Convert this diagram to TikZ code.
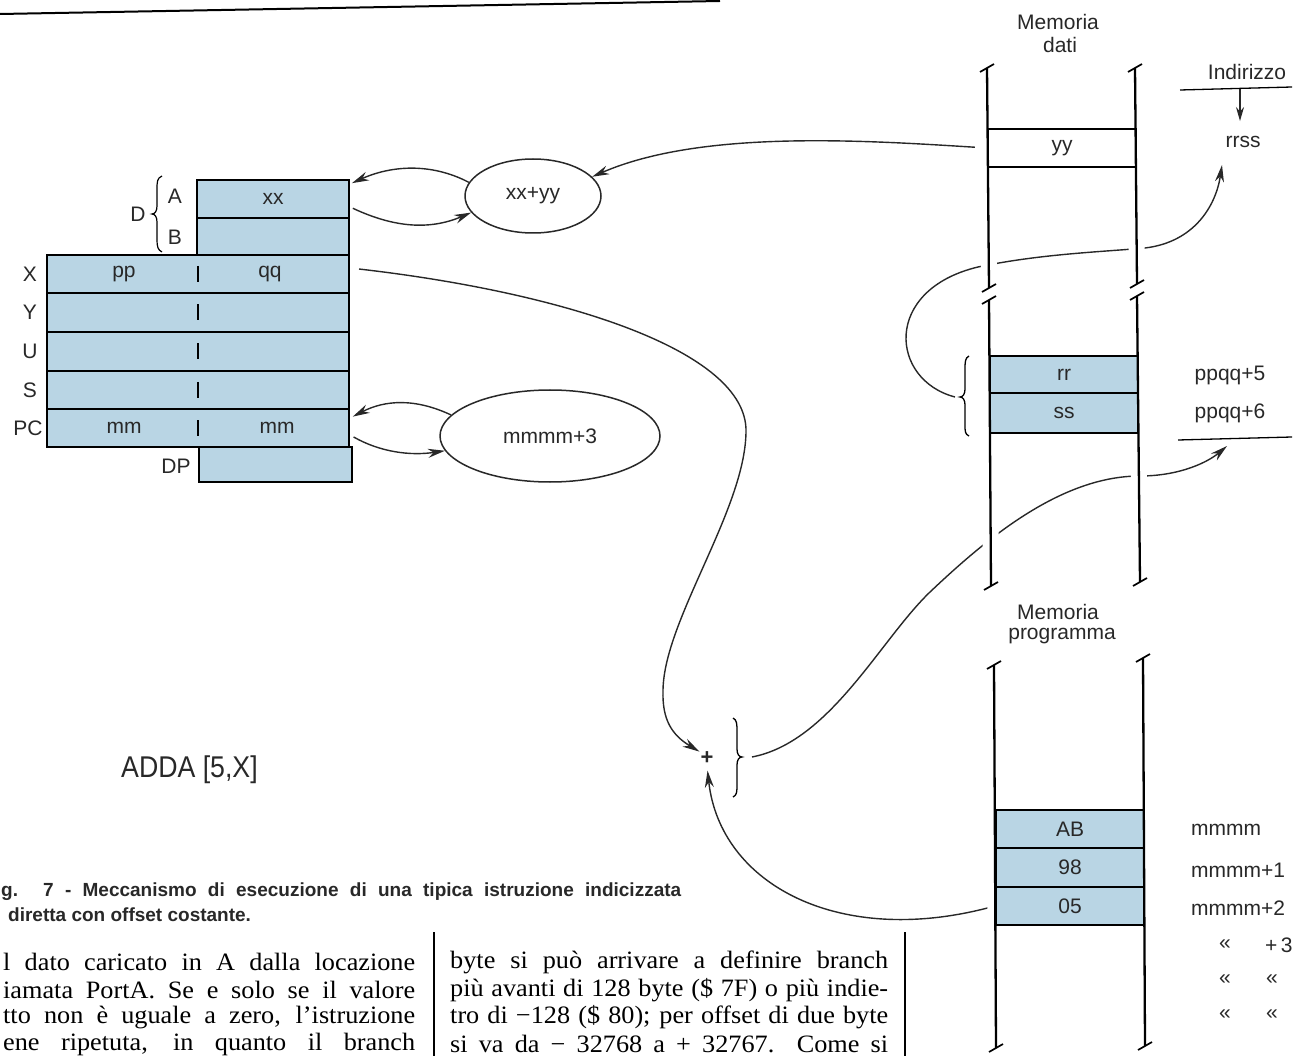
\documentclass[tikz,border=0pt]{standalone}
\usepackage{fontspec}
\setmainfont{Liberation Serif}
\newfontfamily\labfont{Liberation Sans}
\newfontfamily\condfont[FakeStretch=0.89]{Liberation Sans}
\newfontfamily\bodyfont[FakeStretch=1.05]{Liberation Serif}
\usetikzlibrary{arrows.meta,shapes.geometric}
\definecolor{cellblue}{RGB}{185,213,228}
\definecolor{ink}{RGB}{40,40,40}
\newcommand{\rtick}[2]{\draw[line width=1.7pt] ({#1-7},{#2+4}) -- ({#1+7},{#2-4});}
\begin{document}
\begin{tikzpicture}[x=1pt,y=-1pt,
  lab/.style={font=\labfont\fontsize{21}{23}\selectfont, inner sep=1pt, text=ink},
  reg/.style={draw=black, line width=2.2pt, fill=cellblue, inner sep=0pt, font=\labfont\fontsize{21}{23}\selectfont, text=ink},
  memc/.style={reg, minimum width=148pt},
  curve/.style={draw=ink, line width=1.4pt},
  arr/.style={curve, -{Stealth[length=17pt,width=9pt]}},
  rail/.style={line width=2.3pt, draw=black},
  halo/.style={line width=16pt, draw=white},
  oval/.style={draw=ink, ellipse, line width=1.5pt, inner sep=0pt, font=\labfont\fontsize{21}{23}\selectfont, text=ink},
  body/.style={font=\bodyfont\fontsize{25}{27}\selectfont, inner sep=0pt, anchor=west},
  captxt/.style={anchor=west, inner sep=0pt, text=ink, font=\labfont\bfseries\fontsize{19}{22}\selectfont}
]
\useasboundingbox (0,0) rectangle (1293,1056);
\fill[white] (0,0) rectangle (1293,1056);

% top rule
\draw[line width=2pt] (0,14) -- (720,1);

% ---------- registers ----------
\node[reg, minimum width=153pt, minimum height=35pt] (DP) at (275.5,464.5) {};
\node[reg, minimum width=302pt, minimum height=38pt] (X) at (198,274) {};
\node[reg, minimum width=302pt, minimum height=39pt] (Y) at (198,312.5) {};
\node[reg, minimum width=302pt, minimum height=39pt] (U) at (198,351.5) {};
\node[reg, minimum width=302pt, minimum height=38pt] (S) at (198,390) {};
\node[reg, minimum width=302pt, minimum height=38pt] (PC) at (198,428) {};
\node[reg, minimum width=152pt, minimum height=38pt] (A) at (273,199) {xx};
\node[reg, minimum width=152pt, minimum height=37pt] (B) at (273,236.5) {};
\foreach \r in {X,Y,U,S,PC} \draw[line width=1.6pt] ([yshift=8pt]\r.center) -- ([yshift=-8pt]\r.center);
\node[lab] (pp) at (124,274) {pp};
\node[lab] (qq) at (270,274) {qq};
\node[lab] (mm1) at (124,428) {mm};
\node[lab] (mm2) at (277,428) {mm};
\node[lab] (lX) at (30,274) {X};
\node[lab] (lY) at (30,312) {Y};
\node[lab] (lU) at (30,351) {U};
\node[lab] (lS) at (30,390) {S};
\node[lab] (lPC) at (28,428) {PC};
\node[lab] (lA) at (175,196) {A};
\node[lab] (lB) at (175,237) {B};
\node[lab] (lD) at (138,214) {D};
\node[lab] (lDP) at (176,466) {DP};
\draw[line width=1.2pt] (162,176) .. controls (157,178) and (157,182) .. (157,190) -- (157,206) .. controls (157,211) and (155,214) .. (152,214) .. controls (155,214) and (157,217) .. (157,222) -- (157,240) .. controls (157,247) and (158,250) .. (162,252);

% ---------- ovals ----------
\node[oval, minimum width=136pt, minimum height=74pt] (s1) at (533,196) {xx+yy};
\node[oval, minimum width=220pt, minimum height=92pt] (s2) at (550,436) {mmmm+3};

% ---------- memory labels ----------
\node[lab] (md1) at (1058,22) {Memoria};
\node[lab] (md2) at (1060,45) {dati};
\node[lab] (mp1) at (1058,612) {Memoria};
\node[lab] (mp2) at (1062,636) {programma};
\node[lab] (indir) at (1247,72) {Indirizzo};
\node[lab] (rrss) at (1243,142) {rrss};
\node[lab] (pq5) at (1230,375) {ppqq+5};
\node[lab] (pq6) at (1230,413) {ppqq+6};
\draw[line width=1.3pt] (1180,90) -- (1292,87);
\draw[line width=1.3pt] (1178,440) -- (1292,437);
\coordinate (ind) at (1240,89);
\coordinate (ar1) at (1222,165);
\coordinate (ar2) at (1227,446);

% ---------- plus and braces ----------
\node[font=\labfont\bfseries\fontsize{22}{24}\selectfont, inner sep=1pt, text=ink] (plus) at (707,758) {+};
\draw[line width=1.3pt] (733,718) .. controls (737,720) and (737,724) .. (737,732) -- (737,749) .. controls (737,754) and (739,757) .. (742,757) .. controls (739,757) and (737,760) .. (737,765) -- (737,784) .. controls (737,792) and (737,795) .. (733,797);
\coordinate (br1) at (752,757);
\draw[line width=1.3pt] (969,356) .. controls (965,358) and (965,362) .. (965,370) -- (965,389) .. controls (965,394) and (963,397) .. (960,397) .. controls (963,397) and (965,400) .. (965,405) -- (965,424) .. controls (965,432) and (965,434) .. (969,436);
\coordinate (br2) at (955,397);

% memory cells (first pass, for anchors)
\path (1062,148) node[memc, fill=white, minimum height=38pt] (yy) {yy};
\path (1064,374.5) node[memc, minimum height=37pt] (rr) {rr};
\path (1064,413) node[memc, minimum height=40pt] (ss) {ss};
\path (1070,829) node[memc, minimum height=38pt] (AB) {AB};
\path (1070,867.5) node[memc, minimum height=39pt] (P98) {98};
\path (1070,906) node[memc, minimum height=38pt] (P05) {05};

% ---------- connectors ----------
\draw[arr, shorten <=12pt] (yy.west) .. controls (860,140) and (700,130) .. (s1.18);
\draw[arr, shorten >=2pt] (s1.168) .. controls (430,162) and (390,166) .. ([yshift=15pt]A.east);
\draw[arr, shorten <=3pt] ([yshift=-8pt]A.east) .. controls (395,228) and (430,230) .. (s1.195);
\draw[arr, shorten >=3pt] (s2.168) .. controls (415,398) and (385,400) .. ([yshift=10pt]PC.east);
\draw[arr, shorten <=4pt] ([yshift=-7pt]PC.east) .. controls (380,452) and (410,456) .. (s2.188);
\draw[arr, shorten <=9pt] ([yshift=6pt]X.east) .. controls (560,292) and (748,350) .. (746,432) .. controls (745,510) and (664,620) .. (663,690) .. controls (662,720) and (672,735) .. (plus.140);
\draw[arr, shorten <=3pt, shorten >=5pt] (P05.west) .. controls (840,948) and (720,885) .. (plus.south);
\draw[arr] (br1) .. controls (830,742) and (880,640) .. (930,592) .. controls (985,540) and (1060,476) .. (1140,476) .. controls (1180,476) and (1208,462) .. (ar2);
\draw[arr] (br2) .. controls (890,380) and (882,290) .. (978,267) .. controls (1040,254) and (1100,252) .. (1145,248) .. controls (1195,242) and (1216,205) .. (ar1);
\draw[curve, -{Stealth[length=14pt,width=8pt]}, shorten >=14pt] (ind) -- (ind |- rrss.north);

% ---------- rails ----------
\draw[halo] (987,68) -- (989,288);  \draw[halo] (1135,68) -- (1137,284);
\draw[halo] (989,300) -- (991,586); \draw[halo] (1137,296) -- (1140,582);
\draw[halo] (994,665) -- (996,1048); \draw[halo] (1143,658) -- (1145,1046);

\path (1062,148) node[memc, fill=white, minimum height=38pt] {yy};
\path (1064,374.5) node[memc, minimum height=37pt] {rr};
\path (1064,413) node[memc, minimum height=40pt] {ss};
\path (1070,829) node[memc, minimum height=38pt] {AB};
\path (1070,867.5) node[memc, minimum height=39pt] {98};
\path (1070,906) node[memc, minimum height=38pt] {05};

\draw[rail] (987,68) -- (989,288);  \draw[rail] (1135,68) -- (1137,284);
\draw[rail] (989,300) -- (991,586); \draw[rail] (1137,296) -- (1140,582);
\draw[rail] (994,665) -- (996,1048); \draw[rail] (1143,658) -- (1145,1046);
\rtick{987}{68} \rtick{1135}{68} \rtick{989}{288} \rtick{1137}{284}
\rtick{989}{300} \rtick{1137}{296} \rtick{991}{586} \rtick{1140}{582}
\rtick{994}{665} \rtick{1143}{658} \rtick{996}{1048} \rtick{1145}{1046}

% ---------- program addresses ----------
\node[lab, anchor=west] (a0) at (1190,830) {mmmm};
\node[lab, anchor=west] (a1) at (1190,870) {mmmm+1};
\node[lab, anchor=west] (a2) at (1190,908) {mmmm+2};
\node[lab] (q1) at (1225,945) {«};
\node[lab, anchor=west] (a3) at (1264,945) {+\,3};
\node[lab] (q2) at (1225,980) {«};
\node[lab] (q3) at (1272,980) {«};
\node[lab] (q4) at (1225,1015) {«};
\node[lab] (q5) at (1272,1015) {«};

% ---------- texts ----------
\node[font=\condfont\fontsize{30}{32}\selectfont, anchor=west, inner sep=0pt, text=ink] (adda) at (121,770) {ADDA [5,X]};
\node[captxt] (cap1) at (1,892) {\makebox[680pt][s]{g. 7 - Meccanismo di esecuzione di una tipica istruzione indicizzata}};
\node[captxt] (cap2) at (8,915) {diretta con offset costante.};

\node[body] (l1) at (3,962) {\makebox[412pt][s]{l dato caricato in A dalla locazione}};
\node[body] (l2) at (3,990) {\makebox[412pt][s]{iamata PortA. Se e solo se il valore}};
\node[body] (l3) at (3,1017) {\makebox[412pt][s]{tto non è uguale a zero, l’istruzione}};
\node[body] (l4) at (3,1044) {\makebox[412pt][s]{ene ripetuta, in quanto il branch}};
\node[body] (r1) at (450,962) {\makebox[438pt][s]{byte si può arrivare a definire branch}};
\node[body] (r2) at (450,990) {\makebox[438pt][s]{più avanti di 128 byte (\$ 7F) o più indie-}};
\node[body] (r3) at (450,1017) {\makebox[438pt][s]{tro di −128 (\$ 80); per offset di due byte}};
\node[body] (r4) at (450,1044) {\makebox[438pt][s]{si va da − 32768 a + 32767. Come si}};
\draw[line width=1.6pt] (434,932) -- (434,1056);
\draw[line width=1.6pt] (905,932) -- (905,1056);
\end{tikzpicture}
\end{document}
